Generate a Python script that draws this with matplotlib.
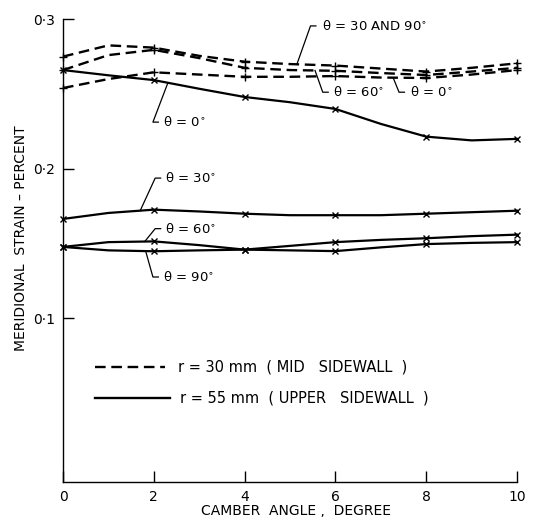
import numpy as np
import matplotlib
matplotlib.use("Agg")
import matplotlib.pyplot as plt

# camber angle, degrees (curves read at every degree, measured points at even angles)
camber = [0, 1, 2, 3, 4, 5, 6, 7, 8, 9, 10]
measured = [0, 2, 4, 6, 8, 10]

# r = 30 mm (mid sidewall), dashed
mid_30_90 = [0.275, 0.2825, 0.281, 0.2755, 0.2716, 0.270, 0.269, 0.267, 0.265, 0.2675, 0.2705]
mid_60 = [0.266, 0.276, 0.2795, 0.274, 0.2675, 0.266, 0.2655, 0.264, 0.2627, 0.265, 0.2675]
mid_0 = [0.254, 0.260, 0.2645, 0.263, 0.2615, 0.2615, 0.262, 0.261, 0.2607, 0.263, 0.266]

# r = 55 mm (upper sidewall), solid
up_0 = [0.266, 0.2625, 0.2593, 0.2535, 0.248, 0.2445, 0.240, 0.230, 0.2215, 0.219, 0.220]
up_30 = [0.1665, 0.1705, 0.1727, 0.1715, 0.170, 0.169, 0.169, 0.169, 0.170, 0.171, 0.172]
up_60 = [0.1478, 0.151, 0.1515, 0.149, 0.146, 0.1485, 0.151, 0.1525, 0.1536, 0.155, 0.156]
up_90 = [0.1478, 0.1455, 0.1449, 0.1455, 0.146, 0.1455, 0.145, 0.1475, 0.1497, 0.1505, 0.151]

x_ticks = [0, 2, 4, 6, 8, 10]
y_ticks = [0.1, 0.2, 0.3]
y_ticklabels = ["0·1", "0·2", "0·3"]

plt.rcParams['font.family'] = ['DejaVu Sans']
fig = plt.figure(figsize=(5.33, 5.2), dpi=100)
ax = fig.add_axes([0.1182, 0.0731, 0.852, 0.890])

dash = (0, (4.5, 2.4))
for ys in (mid_30_90, mid_60, mid_0):
    ax.plot(camber, ys, color='black', lw=1.7, linestyle=dash, clip_on=False)
    ax.plot(measured, ys[::2], linestyle='none', marker='+', color='black',
            markersize=6, mew=1.0, clip_on=False)
for ys in (up_0, up_30, up_60, up_90):
    ax.plot(camber, ys, color='black', lw=1.6, clip_on=False)
    ax.plot(measured, ys[::2], linestyle='none', marker='x', color='black',
            markersize=4, mew=1.0, clip_on=False)


def label(text, series, xp, corner, tx):
    # leader from the curve to a corner, then a short run to the text
    yp = np.interp(xp, camber, series)
    cx, cy = corner
    ax.plot([xp, cx, cx + 0.12], [yp, cy, cy], color='black', lw=0.9)
    ax.text(tx, cy, text, fontsize=9.5, va='center', ha='left')


label("θ = 30 AND 90$^{\\circ}$", mid_30_90, 5.15, (5.45, 0.2955), 5.7)
label("θ = 60$^{\\circ}$", mid_60, 5.55, (5.72, 0.2512), 5.95)
label("θ = 0$^{\\circ}$", mid_0, 7.27, (7.40, 0.2512), 7.64)
label("θ = 0$^{\\circ}$", up_0, 2.31, (1.98, 0.2312), 2.2)
label("θ = 30$^{\\circ}$", up_30, 1.70, (2.03, 0.1938), 2.25)
label("θ = 60$^{\\circ}$", up_60, 1.80, (2.03, 0.160), 2.25)
label("θ = 90$^{\\circ}$", up_90, 1.82, (1.98, 0.1277), 2.2)

# legend drawn in axes coordinates
ax.plot([0.07, 0.225], [0.248, 0.248], transform=ax.transAxes, color='black',
        lw=1.7, linestyle=dash)
ax.text(0.253, 0.248, "r = 30 mm  ( MID   SIDEWALL  )", transform=ax.transAxes,
        fontsize=10.5, va='center')
ax.plot([0.07, 0.236], [0.181, 0.181], transform=ax.transAxes, color='black', lw=1.7)
ax.text(0.258, 0.181, "r = 55 mm  ( UPPER   SIDEWALL  )", transform=ax.transAxes,
        fontsize=10.5, va='center')

ax.set_xlim(0, 10)
ax.set_ylim(-0.0093, 0.3)
ax.set_xticks(x_ticks)
ax.set_yticks(y_ticks)
ax.set_yticklabels(y_ticklabels)
ax.tick_params(direction='in', length=8, width=1, labelsize=10, pad=6)
for s in ('top', 'right'):
    ax.spines[s].set_visible(False)
for s in ('left', 'bottom'):
    ax.spines[s].set_linewidth(1)

ax.set_xlabel("CAMBER  ANGLE ,  DEGREE", fontsize=10)
ax.set_ylabel("MERIDIONAL  STRAIN – PERCENT", fontsize=10)
ax.xaxis.set_label_coords(0.513, -0.048)
ax.yaxis.set_label_coords(-0.077, 0.527)

fig.savefig("out.png", dpi=100)
